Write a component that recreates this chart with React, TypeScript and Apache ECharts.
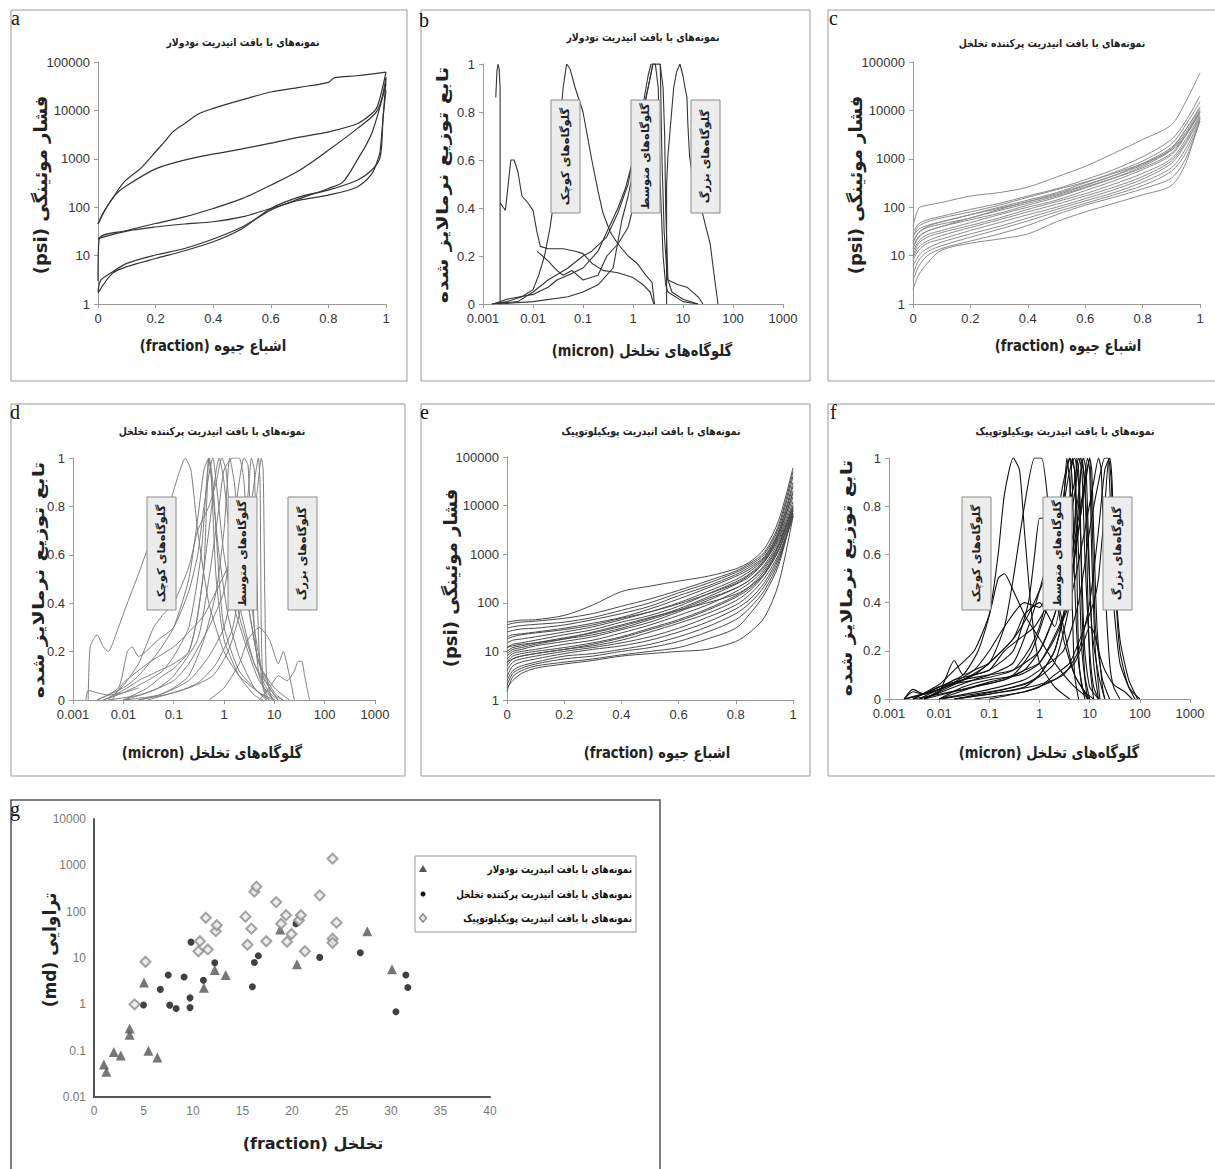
import React, { useEffect, useRef } from "react";
import * as echarts from "echarts";

// ---------- text ----------
const TITLE_NODULAR = "نمونه‌های با بافت انیدریت نودولار";
const TITLE_PORE = "نمونه‌های با بافت انیدریت پرکننده تخلخل";
const TITLE_POIK = "نمونه‌های با بافت انیدریت پویکیلوتوپیک";
const Y_PC = "(psi) فشار موئینگی";
const X_SAT = "(fraction) اشباع جیوه";
const Y_PDF = "تابع توزیع نرمالایز شده";
const X_THROAT = "(micron) گلوگاه‌های تخلخل";
const Y_PERM = "(md) تراوایی";
const X_POR = "(fraction) تخلخل";
const BOX_LABELS = ["گلوگاه‌های کوچک", "گلوگاه‌های متوسط", "گلوگاه‌های بزرگ"];
const PANEL_LETTERS = ["a", "b", "c", "d", "e", "f", "g"];

// ---------- panel a : nodular, capillary pressure ----------
const aTop = [[0,45],[0.02,80],[0.05,150],[0.09,330],[0.15,650],[0.2,1400],[0.23,2200],[0.26,3600],[0.3,5300],[0.35,8500],[0.4,11000],[0.5,16500],[0.6,24000],[0.7,30000],[0.8,38000],[0.82,47000],[0.9,52000],[1,62000]];
const aUpper = [[0,45],[0.03,100],[0.06,180],[0.1,280],[0.2,620],[0.3,940],[0.4,1250],[0.5,1600],[0.6,2100],[0.7,2800],[0.8,3600],[0.9,5300],[0.95,8500],[0.97,12000],[1,62000]];
const aMidA = [[0,3],[0.004,22],[0.1,33],[0.2,46],[0.3,63],[0.4,94],[0.5,150],[0.6,285],[0.7,580],[0.8,1500],[0.9,4200],[0.97,10000],[1,49000]];
const aMidB = [[0,22],[0.005,23],[0.1,32],[0.2,39],[0.3,45],[0.4,50],[0.5,63],[0.6,94],[0.7,140],[0.8,178],[0.9,262],[0.95,480],[0.97,900],[0.98,1500],[1,45000]];
const aLowA = [[0,1.8],[0.01,3.1],[0.05,4.6],[0.1,6.9],[0.2,10.3],[0.3,14],[0.4,22],[0.5,39],[0.6,87],[0.7,150],[0.8,244],[0.85,330],[0.9,940],[0.95,3300],[1,35000]];
const aLowB = [[0,1.7],[0.05,4.3],[0.1,5.9],[0.2,8.7],[0.3,12.6],[0.4,19.3],[0.5,36],[0.6,94],[0.7,163],[0.8,226],[0.9,361],[0.95,580],[0.98,1100],[0.99,7400],[1,26000]];

// ---------- panel b : nodular, pore throat distribution ----------
const bSpike = [[0.0018,0.86],[0.0019,0.97],[0.002,1],[0.0021,0.98],[0.0022,0.9],[0.0022,0]];
const bSmallPeak = [[0.0015,0],[0.003,0.01],[0.006,0.03],[0.01,0.06],[0.013,0.12],[0.017,0.2],[0.022,0.32],[0.027,0.45],[0.033,0.7],[0.04,0.9],[0.047,1],[0.055,0.98],[0.07,0.9],[0.1,0.8],[0.15,0.6],[0.2,0.47],[0.25,0.38],[0.35,0.3],[0.5,0.25],[0.8,0.2],[1.2,0.17],[1.8,0.12],[2.4,0.09],[2.7,0]];
const bTwinPeak = [[0.0022,0.42],[0.0026,0.4],[0.0028,0.39],[0.0032,0.5],[0.0036,0.6],[0.0042,0.6],[0.005,0.55],[0.006,0.45],[0.008,0.42],[0.01,0.39],[0.012,0.3],[0.014,0.24],[0.02,0.23],[0.04,0.23],[0.07,0.22],[0.1,0.21],[0.15,0.17],[0.25,0.14],[0.5,0.13],[1,0.11],[1.6,0.08],[2.2,0.05],[2.6,0]];
const bDip = [[0.012,0.22],[0.02,0.18],[0.03,0.14],[0.04,0.12],[0.06,0.14],[0.1,0.1],[0.2,0.12],[0.3,0.2],[0.5,0.25],[0.8,0.32],[1,0.4]];
const bMidA = [[0.0016,0],[0.003,0.02],[0.01,0.04],[0.02,0.07],[0.03,0.1],[0.05,0.12],[0.1,0.15],[0.2,0.22],[0.3,0.3],[0.5,0.4],[0.7,0.48],[1,0.6],[1.5,0.8],[2,0.95],[2.3,1],[2.8,1],[3.2,0.9],[3.5,0.5],[4,0.2],[4.5,0.08],[5,0.05],[10,0.01],[20,0]];
const bMidB = [[0.0015,0],[0.005,0.01],[0.01,0.05],[0.02,0.1],[0.05,0.15],[0.1,0.2],[0.15,0.22],[0.3,0.28],[0.5,0.38],[0.8,0.5],[1.2,0.7],[2,0.9],[2.5,1],[3,1],[3.5,1],[3.8,0.6],[4.2,0.3],[4.8,0.12],[5,0.1],[8,0.08],[12,0.07],[20,0.03],[25,0]];
const bMidC = [[0.002,0],[0.01,0.01],[0.05,0.03],[0.1,0.05],[0.2,0.08],[0.4,0.15],[0.6,0.35],[0.8,0.45],[1,0.55],[1.3,0.7],[2,0.9],[2.5,1],[3.5,1],[4,0.9],[4.3,0.7],[4.5,0.4],[5,0.1],[6,0.05],[10,0.02],[20,0]];
const bLarge = [[4.7,0],[4.7,0.5],[5,0.62],[5.5,0.72],[6.5,0.9],[7.5,0.97],[8.7,1],[10,0.95],[11,0.9],[12,0.86],[12.5,0.75],[13.5,0.62],[15,0.55],[18,0.5],[22,0.42],[28,0.33],[35,0.25],[42,0.12],[50,0]];

// ---------- panel c : pore-filling, capillary pressure ----------
const cSat = [0,0.02,0.05,0.1,0.2,0.3,0.4,0.5,0.6,0.7,0.8,0.9,0.95,1];
const cP01 = [40,95,110,125,170,200,260,420,700,1300,2500,5000,15000,60000];
const cP02 = [30,45,55,65,90,120,170,240,370,600,1100,2500,6000,20000];
const cP03 = [25,35,42,50,70,100,140,200,320,520,900,2000,5000,15000];
const cP04 = [20,30,38,45,60,90,130,180,280,450,800,1700,4000,12000];
const cP05 = [15,25,32,40,55,75,110,160,250,400,700,1500,3500,10000];
const cP06 = [12,20,27,33,48,70,100,140,220,350,600,1200,3000,9000];
const cP07 = [10,18,24,30,42,60,90,130,190,300,500,1000,2500,8000];
const cP08 = [9,15,20,26,38,55,80,115,170,260,430,900,2200,7500];
const cP09 = [8,13,18,22,33,48,70,100,150,230,380,800,2000,7000];
const cP10 = [6,10,14,19,28,40,60,90,135,200,330,650,1600,6500];
const cP11 = [4,8,12,16,24,35,52,80,120,180,280,550,1300,6000];
const cP12 = [3,6,10,14,20,28,42,70,110,160,240,400,1000,6000];
const cP13 = [2,4,7,13,18,22,28,50,80,120,180,280,800,7000];
const cP14 = [25,40,50,60,80,110,160,230,330,500,800,1500,3000,9000];
const cP15 = [18,30,40,50,70,95,130,190,290,450,750,1600,4000,11000];
const cP16 = [14,24,32,40,60,85,120,170,260,400,650,1300,3200,9500];
const cCurves = [cP01,cP02,cP03,cP04,cP05,cP06,cP07,cP08,cP09,cP10,cP11,cP12,cP13,cP14,cP15,cP16];

// ---------- panel d : pore-filling, pore throat distribution ----------
const d01 = [[0.002,0],[0.0022,0.22],[0.003,0.27],[0.004,0.22],[0.005,0.2],[0.008,0.3],[0.012,0.4],[0.02,0.52],[0.03,0.62],[0.05,0.7],[0.08,0.8],[0.12,0.92],[0.17,1],[0.22,0.95],[0.3,0.7],[0.5,0.4],[1,0.2],[2,0.1],[5,0.03],[10,0]];
const d02 = [[0.003,0],[0.01,0.05],[0.02,0.1],[0.05,0.2],[0.1,0.3],[0.2,0.5],[0.3,0.75],[0.4,0.95],[0.5,1],[0.6,0.9],[0.8,0.5],[1,0.3],[2,0.12],[5,0.03],[8,0]];
const d03 = [[0.004,0],[0.01,0.03],[0.03,0.08],[0.06,0.12],[0.1,0.18],[0.2,0.3],[0.35,0.6],[0.45,0.9],[0.5,1],[0.6,0.85],[0.8,0.6],[1.2,0.35],[2,0.18],[4,0.05],[7,0]];
const d04 = [[0.005,0],[0.01,0.06],[0.02,0.15],[0.04,0.3],[0.06,0.35],[0.1,0.4],[0.2,0.55],[0.3,0.7],[0.5,0.8],[0.7,0.9],[0.9,1],[1.1,0.95],[1.5,0.6],[2,0.4],[4,0.15],[8,0.03],[12,0]];
const d05 = [[0.003,0],[0.008,0.05],[0.012,0.2],[0.015,0.22],[0.02,0.18],[0.05,0.25],[0.1,0.3],[0.2,0.45],[0.3,0.6],[0.4,0.8],[0.6,1],[0.7,0.9],[1,0.6],[1.5,0.4],[3,0.2],[5,0.08],[10,0]];
const d06 = [[0.005,0],[0.02,0.02],[0.05,0.05],[0.1,0.1],[0.3,0.25],[0.5,0.5],[0.8,0.8],[1,0.95],[1.5,1],[2,1],[2.5,0.9],[3,0.6],[4,0.3],[6,0.1],[10,0.02],[15,0]];
const d07 = [[0.01,0],[0.03,0.03],[0.1,0.08],[0.2,0.15],[0.5,0.3],[1,0.45],[1.5,0.7],[2,0.9],[2.5,1],[3,0.97],[3.5,0.6],[4,0.3],[5,0.1],[7,0.03],[10,0]];
const d08 = [[0.01,0],[0.05,0.02],[0.2,0.08],[0.5,0.18],[1,0.3],[2,0.6],[3,0.85],[3.5,1],[4,0.95],[4.5,0.5],[5,0.2],[6,0.05],[8,0]];
const d09 = [[0.02,0],[0.1,0.03],[0.3,0.07],[0.7,0.15],[1.5,0.3],[2.5,0.6],[4,0.9],[4.8,1],[5.2,0.9],[5.5,0.3],[6,0.05],[7,0]];
const d10 = [[0.03,0],[0.2,0.05],[0.6,0.1],[1.2,0.2],[2,0.35],[3,0.6],[4.5,0.85],[5.5,1],[6,0.95],[6.5,0.4],[7,0.1],[9,0]];
const d11 = [[0.01,0],[0.03,0.05],[0.06,0.1],[0.1,0.13],[0.2,0.2],[0.3,0.35],[0.5,0.7],[0.7,0.95],[0.8,1],[1,0.9],[1.5,0.55],[2,0.35],[4,0.15],[8,0.05],[12,0]];
const d12 = [[0.006,0],[0.01,0.07],[0.03,0.15],[0.05,0.18],[0.1,0.22],[0.2,0.28],[0.4,0.35],[0.7,0.45],[1.2,0.55],[2,0.65],[2.2,0.6],[3,0.4],[5,0.15],[10,0.05],[20,0]];
const d13 = [[0.5,0],[1,0.05],[2,0.15],[3,0.25],[5,0.3],[8,0.25],[12,0.15],[15,0.2],[20,0.1],[25,0]];
const d14 = [[5,0],[8,0.05],[12,0.1],[18,0.08],[25,0.12],[30,0.16],[35,0.16],[40,0.1],[50,0]];
const d15 = [[0.004,0],[0.01,0.04],[0.02,0.08],[0.05,0.12],[0.1,0.15],[0.2,0.2],[0.3,0.35],[0.4,0.55],[0.45,0.8],[0.5,1],[0.55,0.95],[0.7,0.5],[1,0.25],[2,0.1],[4,0.02],[6,0]];
const d16 = [[0.02,0],[0.05,0.02],[0.1,0.05],[0.2,0.1],[0.4,0.25],[0.7,0.45],[1,0.7],[1.3,1],[1.6,0.9],[2,0.7],[3,0.4],[5,0.15],[10,0.03],[15,0]];
const d17 = [[0.0018,0],[0.002,0.04],[0.003,0.03],[0.005,0.02],[0.01,0.03],[0.02,0.05]];
const dCurves = [d01,d02,d03,d04,d05,d06,d07,d08,d09,d10,d11,d12,d13,d14,d15,d16,d17];

// ---------- panel e : poikilotopic, capillary pressure ----------
const eSat = [0,0.02,0.05,0.1,0.2,0.3,0.4,0.5,0.6,0.7,0.8,0.85,0.9,0.95,1];
const eP01 = [40,42,44,45,55,90,170,220,280,350,500,700,1300,5000,60000];
const eP02 = [35,38,40,42,48,60,85,120,180,280,450,650,1100,4000,50000];
const eP03 = [30,32,34,36,40,50,70,100,160,250,420,600,1000,3500,40000];
const eP04 = [25,27,29,30,35,45,60,85,140,220,380,550,900,3000,30000];
const eP05 = [20,22,23,25,30,38,50,75,120,200,350,500,850,2800,25000];
const eP06 = [15,17,18,20,25,32,45,65,100,170,300,450,800,2500,20000];
const eP07 = [12,14,15,17,22,28,40,55,85,150,270,400,750,2200,15000];
const eP08 = [10,12,13,15,19,24,33,48,75,130,240,350,700,2000,12000];
const eP09 = [8,10,11,13,16,20,28,40,65,110,200,300,600,1800,10000];
const eP10 = [7,9,10,11,14,17,24,35,55,90,170,260,500,1500,9000];
const eP11 = [6,8,9,10,12,15,20,30,45,75,140,220,450,1300,8000];
const eP12 = [5,7,8,9,11,13,17,25,38,60,110,180,380,1200,7000];
const eP13 = [4,6,7,8,10,12,15,20,30,50,90,150,320,1000,6500];
const eP14 = [3,5,6,7,9,11,13,17,25,40,75,120,260,900,6000];
const eP15 = [2.5,4,5,6,8,9,11,14,20,32,60,100,220,800,6000];
const eP16 = [2,3.5,4.5,5.5,7,8,10,12,16,25,45,80,180,700,7000];
const eP17 = [1.5,3,4,5,6,7,8.5,10,12,18,30,60,150,600,8000];
const eP18 = [1.8,2.5,3.5,4.5,5.5,6.5,8,9,10,11,16,25,50,250,6000];
const eP19 = [9,11,12,14,18,25,35,50,70,100,150,220,400,1500,9000];
const eP20 = [18,20,22,24,28,35,48,65,95,150,250,380,700,2500,18000];
const eP21 = [12,13,14,15,18,22,30,45,70,120,200,300,550,1600,10000];
const eP22 = [6,7,8,9,11,14,19,28,42,70,130,200,400,1200,8000];
const eCurves = [eP01,eP02,eP03,eP04,eP05,eP06,eP07,eP08,eP09,eP10,eP11,eP12,eP13,eP14,eP15,eP16,eP17,eP18,eP19,eP20,eP21,eP22];

// ---------- panel f : poikilotopic, pore throat distribution ----------
const f01 = [[0.002,0],[0.005,0.02],[0.01,0.05],[0.03,0.1],[0.06,0.2],[0.1,0.35],[0.15,0.6],[0.2,0.85],[0.3,1],[0.4,0.95],[0.5,0.7],[0.7,0.35],[1,0.15],[2,0.05],[4,0]];
const f02 = [[0.002,0],[0.01,0.04],[0.03,0.08],[0.1,0.15],[0.2,0.3],[0.3,0.5],[0.5,0.8],[0.8,1],[1.1,1],[1.5,0.8],[2,0.5],[3,0.25],[5,0.1],[8,0.03],[12,0]];
const f03 = [[0.003,0],[0.01,0.06],[0.02,0.12],[0.05,0.2],[0.1,0.35],[0.15,0.5],[0.2,0.52],[0.3,0.45],[0.5,0.35],[1,0.25],[2,0.15],[5,0.05],[10,0]];
const f04 = [[0.002,0],[0.003,0.03],[0.005,0.02],[0.01,0.04],[0.02,0.08],[0.05,0.1],[0.1,0.12],[0.3,0.2],[0.6,0.4],[0.8,0.6],[1,0.75],[1.2,0.75],[1.5,0.6],[3,0.3],[5,0.1],[10,0]];
const f05 = [[0.004,0],[0.01,0.03],[0.02,0.16],[0.03,0.1],[0.05,0.12],[0.1,0.15],[0.3,0.25],[0.6,0.35],[1,0.45],[2,0.6],[3,0.8],[4,0.95],[5,1],[6,0.9],[7,0.5],[8,0.2],[10,0.05],[15,0]];
const f06 = [[0.005,0],[0.02,0.05],[0.05,0.08],[0.1,0.1],[0.3,0.15],[0.6,0.3],[1,0.45],[2,0.7],[3,0.9],[4,1],[5,0.95],[6,0.6],[7,0.2],[9,0]];
const f07 = [[0.005,0],[0.03,0.04],[0.1,0.07],[0.3,0.1],[0.7,0.2],[1.5,0.4],[3,0.7],[5,0.9],[6,1],[7,0.95],[8,0.6],[10,0.2],[12,0.05],[15,0]];
const f08 = [[0.01,0],[0.05,0.05],[0.2,0.08],[0.5,0.12],[1,0.2],[2,0.35],[4,0.6],[6,0.85],[7.5,1],[8.5,0.95],[10,0.5],[12,0.15],[15,0]];
const f09 = [[0.01,0],[0.1,0.03],[0.5,0.06],[1,0.1],[2,0.2],[3,0.35],[5,0.6],[7,0.8],[9,1],[10,0.95],[11,0.6],[13,0.2],[16,0]];
const f10 = [[0.02,0],[0.2,0.04],[0.8,0.08],[2,0.15],[4,0.4],[6,0.8],[7,1],[8,0.9],[9,0.5],[10,0.15],[12,0]];
const f11 = [[0.005,0],[0.02,0.06],[0.05,0.1],[0.1,0.15],[0.3,0.25],[0.5,0.35],[1,0.4],[2,0.3],[3,0.5],[4,0.8],[4.5,1],[5,0.95],[5.5,0.6],[6,0.2],[7,0.05],[9,0]];
const f12 = [[0.003,0],[0.01,0.02],[0.05,0.05],[0.2,0.08],[0.5,0.12],[1,0.15],[2,0.25],[4,0.4],[8,0.7],[12,0.9],[15,1],[17,0.95],[20,0.5],[25,0.15],[30,0.05],[40,0]];
const f13 = [[0.01,0],[0.1,0.04],[0.5,0.08],[1,0.12],[3,0.2],[6,0.4],[10,0.7],[15,0.9],[20,1],[23,1],[26,0.8],[30,0.4],[40,0.15],[60,0.05],[80,0]];
const f14 = [[0.02,0],[0.2,0.03],[1,0.06],[3,0.1],[6,0.2],[10,0.4],[15,0.7],[20,0.95],[25,1],[28,0.9],[32,0.5],[40,0.2],[60,0.05],[100,0]];
const f15 = [[0.05,0],[0.5,0.03],[2,0.08],[5,0.15],[8,0.25],[10,0.3],[12,0.28],[15,0.2],[20,0.12],[30,0.06],[50,0.03],[70,0]];
const f16 = [[0.005,0],[0.02,0.07],[0.05,0.12],[0.1,0.2],[0.2,0.3],[0.5,0.4],[1,0.38],[1.5,0.45],[2.5,0.7],[3.5,0.95],[4,1],[4.5,0.9],[5,0.5],[6,0.15],[8,0]];
const f17 = [[0.003,0],[0.01,0.05],[0.03,0.08],[0.1,0.1],[0.3,0.12],[1,0.2],[2,0.35],[4,0.55],[6,0.75],[8,0.9],[10,1],[11,0.95],[12,0.7],[14,0.3],[18,0.05],[20,0]];
const f18 = [[0.01,0],[0.03,0.05],[0.1,0.08],[0.4,0.1],[1,0.15],[3,0.35],[5,0.7],[5.5,1],[6,0.95],[6.5,0.8],[7,0.4],[8,0.1],[10,0]];
const f19 = [[0.1,0],[0.5,0.03],[1,0.05],[2,0.1],[4,0.15],[8,0.3],[12,0.4],[15,0.5],[20,0.8],[24,1],[27,0.9],[30,0.6],[40,0.25],[60,0.08],[90,0]];
const f20 = [[0.002,0],[0.003,0.04],[0.005,0.02],[0.01,0.05],[0.03,0.07],[0.1,0.09],[0.3,0.12],[0.6,0.2],[1,0.3],[2,0.55],[3,0.8],[3.5,1],[4,0.9],[4.5,0.4],[5,0.1],[6,0]];
const f21 = [[0.004,0],[0.01,0.04],[0.05,0.1],[0.1,0.12],[0.2,0.2],[0.4,0.25],[0.8,0.3],[1.5,0.4],[3,0.6],[5,0.85],[6.5,1],[7.5,0.95],[9,0.7],[11,0.3],[15,0.1],[20,0]];
const f22 = [[0.02,0],[0.1,0.02],[0.5,0.05],[1,0.1],[2,0.2],[4,0.45],[7,0.8],[9,0.95],[10,1],[11,0.8],[13,0.3],[18,0.08],[25,0]];
const fCurves = [f01,f02,f03,f04,f05,f06,f07,f08,f09,f10,f11,f12,f13,f14,f15,f16,f17,f18,f19,f20,f21,f22];

// ---------- panel g : porosity vs permeability ----------
const gNodular = [[1.0,0.05],[1.25,0.035],[2.0,0.094],[2.7,0.079],[3.6,0.3],[3.6,0.22],[5.05,2.96],[5.5,0.1],[6.4,0.071],[11.1,2.27],[12.2,5.5],[13.3,4.3],[18.8,41],[20.5,7.3],[27.6,38],[30.1,5.7]];
const gPoreFilling = [[5.0,0.97],[6.7,2.1],[7.5,4.3],[7.65,0.96],[8.3,0.81],[9.1,3.9],[9.7,1.38],[9.7,0.85],[9.8,22],[11.05,3.3],[12.2,7.9],[16.0,2.4],[16.2,8],[16.6,11.2],[20.4,55],[22.8,10.3],[26.9,13],[30.5,0.69],[31.5,4.3],[31.7,2.3]];
const gPoikilotopic = [[4.1,1.0],[5.2,8.3],[10.55,14],[10.7,23],[11.3,74],[11.5,15.3],[12.3,38],[12.4,51],[15.3,78],[15.5,19.3],[15.9,43],[16.2,270],[16.4,346],[17.4,23],[18.4,161],[18.9,55],[19.4,84],[19.5,22.4],[19.95,33],[20.7,65],[20.9,84],[21.3,14],[22.8,225],[24.1,26],[24.1,21.3],[24.1,1390],[24.5,58]];
const gSeriesNames = [TITLE_NODULAR, TITLE_PORE, TITLE_POIK];

// ---------- style constants ----------
const FA = "'DejaVu Sans', 'Noto Sans', sans-serif";
const NUM = "'Liberation Sans', Arial, sans-serif";

const GRIDS = [
  { left: 98, top: 62, width: 288, height: 242 },
  { left: 483, top: 64, width: 300, height: 240 },
  { left: 913, top: 62, width: 287, height: 242 },
  { left: 73, top: 458, width: 302, height: 242 },
  { left: 507, top: 457, width: 286, height: 243 },
  { left: 889, top: 458, width: 301, height: 241 },
  { left: 94, top: 819, width: 396, height: 278 },
];

const fmtNum = (v: number) => String(Number(Number(v).toPrecision(6)));

function axisBase(gi: number, color = "#9a9a9a", labelColor = "#333", fontSize = 13) {
  return {
    gridIndex: gi,
    axisLine: { show: true, onZero: false, lineStyle: { color, width: 1 } },
    axisTick: { show: true, length: 4, lineStyle: { color } },
    axisLabel: { color: labelColor, fontSize, fontFamily: NUM, formatter: fmtNum, margin: 8 },
    splitLine: { show: false },
    minorTick: { show: false },
  };
}

function satX(gi: number) {
  return { ...axisBase(gi), type: "value", min: 0, max: 1, interval: 0.2 };
}
function pcY(gi: number) {
  return { ...axisBase(gi), type: "log", logBase: 10, min: 1, max: 100000, splitNumber: 5 };
}
function throatX(gi: number) {
  return { ...axisBase(gi), type: "log", logBase: 10, min: 0.001, max: 1000, splitNumber: 6 };
}
function pdfY(gi: number) {
  return { ...axisBase(gi), type: "value", min: 0, max: 1, interval: 0.2 };
}

function line(data: number[][], gi: number, color: string, smooth: number | boolean, width = 1) {
  return {
    type: "line",
    xAxisIndex: gi,
    yAxisIndex: gi,
    data,
    symbol: "none",
    showSymbol: false,
    smooth,
    silent: true,
    clip: true,
    lineStyle: { color, width },
  };
}

const zip = (xs: number[], ys: number[]) => xs.map((x, i) => [x, ys[i]]);

function txt(text: string, x: number, y: number, size: number, opts: any = {}) {
  return {
    type: "text",
    x,
    y,
    rotation: opts.rotation || 0,
    scaleX: opts.scaleX || 1,
    z: 10,
    style: {
      text,
      fontSize: size,
      fontWeight: opts.weight || "bold",
      fontFamily: opts.family || FA,
      fill: opts.fill || "#222",
      align: opts.align || "center",
      verticalAlign: "middle",
    },
  };
}

function rect(x: number, y: number, w: number, h: number, stroke: string, fill = "none", lw = 1) {
  return { type: "rect", z: 1, shape: { x, y, width: w, height: h }, style: { fill, stroke, lineWidth: lw } };
}

function boxes(xs: number[], top: number, bottom: number) {
  const out: any[] = [];
  xs.forEach((bx, i) => {
    out.push({ ...rect(bx, top, 29, bottom - top, "#8a8a8a", "#ececec"), z: 8 });
    out.push(txt(BOX_LABELS[i], bx + 14.5, (top + bottom) / 2, 11, { rotation: Math.PI / 2, scaleX: 1.05 }));
  });
  return out;
}

function buildOption() {
  const series: any[] = [];
  [aTop, aUpper, aMidA, aMidB, aLowA, aLowB].forEach((c) => series.push(line(c, 0, "#333", 0.3, 1.2)));
  [bSpike, bSmallPeak, bTwinPeak, bDip, bMidA, bMidB, bMidC, bLarge].forEach((c) => series.push(line(c, 1, "#333", false, 1.1)));
  cCurves.forEach((c) => series.push(line(zip(cSat, c), 2, "#8a8a8a", 0.3)));
  dCurves.forEach((c) => series.push(line(c, 3, "#7e7e7e", 0.2)));
  eCurves.forEach((c) => series.push(line(zip(eSat, c), 4, "#4a4a4a", 0.3)));
  fCurves.forEach((c) => series.push(line(c, 5, "#111", 0.2, 1.1)));

  series.push({
    type: "scatter", name: gSeriesNames[0], xAxisIndex: 6, yAxisIndex: 6, data: gNodular,
    symbol: "triangle", symbolSize: 10, itemStyle: { color: "#555" },
  });
  series.push({
    type: "scatter", name: gSeriesNames[1], xAxisIndex: 6, yAxisIndex: 6, data: gPoreFilling,
    symbol: "circle", symbolSize: 7, itemStyle: { color: "#111" },
  });
  series.push({
    type: "scatter", name: gSeriesNames[2], xAxisIndex: 6, yAxisIndex: 6, data: gPoikilotopic,
    symbol: "diamond", symbolSize: 10, itemStyle: { color: "#e8e8e8", borderColor: "#8c8c8c", borderWidth: 2 },
  });

  const gAxis = (gi: number) => {
    const b = axisBase(gi, "#666", "#777", 12);
    return { ...b, axisLine: { show: true, onZero: false, lineStyle: { color: "#555", width: 2 } }, axisTick: { show: false } };
  };

  const xAxis = [
    satX(0), throatX(1), satX(2), throatX(3), satX(4), throatX(5),
    { ...gAxis(6), type: "value", min: 0, max: 40, interval: 5 },
  ];
  const yAxis = [
    pcY(0), pdfY(1), pcY(2), pdfY(3), pcY(4), pdfY(5),
    { ...gAxis(6), type: "log", logBase: 10, min: 0.01, max: 10000, splitNumber: 6 },
  ];

  const graphic: any[] = [];
  // panel frames
  graphic.push(rect(11, 10, 396, 371, "#9a9a9a"));
  graphic.push(rect(421, 10, 389, 371, "#9a9a9a"));
  graphic.push(rect(828, 10, 400, 371, "#9a9a9a"));
  graphic.push(rect(11, 404, 394, 372, "#9a9a9a"));
  graphic.push(rect(421, 404, 389, 372, "#9a9a9a"));
  graphic.push(rect(828, 404, 400, 372, "#9a9a9a"));
  graphic.push(rect(11, 800, 649, 400, "#555", "none", 1.5));

  // panel letters
  const letterPos = [[11, 18], [419, 20], [829, 18], [10, 412], [420, 412], [830, 412], [10, 809]];
  letterPos.forEach((p, i) =>
    graphic.push(txt(PANEL_LETTERS[i], p[0], p[1], 20, { weight: "normal", family: "'Liberation Serif', 'Times New Roman', serif", align: "left", fill: "#111" }))
  );

  // titles
  const TS = 0.85;
  graphic.push(txt(TITLE_NODULAR, 243, 42, 11, { scaleX: TS }));
  graphic.push(txt(TITLE_NODULAR, 643, 37, 11, { scaleX: TS }));
  graphic.push(txt(TITLE_PORE, 1052, 43, 11, { scaleX: TS }));
  graphic.push(txt(TITLE_PORE, 212, 431, 11, { scaleX: TS }));
  graphic.push(txt(TITLE_POIK, 651, 431, 11, { scaleX: TS }));
  graphic.push(txt(TITLE_POIK, 1065, 431, 11, { scaleX: TS }));

  // axis names
  const R = Math.PI / 2;
  const XS = 0.82;
  const PS = 1.3;
  graphic.push(txt(Y_PC, 40, 185, 18, { rotation: R }));
  graphic.push(txt(X_SAT, 213, 345, 16, { scaleX: XS }));
  graphic.push(txt(Y_PDF, 442, 185, 16, { rotation: R, scaleX: PS }));
  graphic.push(txt(X_THROAT, 642, 350, 16, { scaleX: XS }));
  graphic.push(txt(Y_PC, 855, 185, 18, { rotation: R }));
  graphic.push(txt(X_SAT, 1068, 345, 16, { scaleX: XS }));
  graphic.push(txt(Y_PDF, 38, 580, 16, { rotation: R, scaleX: PS }));
  graphic.push(txt(X_THROAT, 212, 752, 16, { scaleX: XS }));
  graphic.push(txt(Y_PC, 450, 578, 18, { rotation: R }));
  graphic.push(txt(X_SAT, 657, 752, 16, { scaleX: XS }));
  graphic.push(txt(Y_PDF, 846, 578, 16, { rotation: R, scaleX: PS }));
  graphic.push(txt(X_THROAT, 1049, 752, 16, { scaleX: XS }));
  graphic.push(txt(Y_PERM, 50, 950, 18, { rotation: R, scaleX: 0.95 }));
  graphic.push(txt(X_POR, 313, 1143, 16));

  // boxes
  graphic.push(...boxes([551, 631, 691], 100, 213));
  graphic.push(...boxes([147, 228, 288], 497, 610));
  graphic.push(...boxes([962, 1043, 1103], 497, 610));

  // legend for g
  graphic.push({ ...rect(415, 856, 221, 76, "#999", "#fff"), z: 9 });
  const ly = [869, 894, 918];
  gSeriesNames.forEach((n, i) => graphic.push(txt(n, 632, ly[i], 11, { align: "right", scaleX: 0.8, fill: "#111" })));
  graphic.push({ type: "polygon", z: 11, shape: { points: [[423, ly[0] - 4], [419, ly[0] + 3], [427, ly[0] + 3]] }, style: { fill: "#555" } });
  graphic.push({ type: "circle", z: 11, shape: { cx: 423, cy: ly[1], r: 2.5 }, style: { fill: "#111" } });
  graphic.push({ type: "polygon", z: 11, shape: { points: [[423, ly[2] - 4], [426.5, ly[2]], [423, ly[2] + 4], [419.5, ly[2]]] }, style: { fill: "#e8e8e8", stroke: "#8c8c8c", lineWidth: 1.5 } });

  return {
    animation: false,
    backgroundColor: "#fff",
    grid: GRIDS.map((g) => ({ ...g, containLabel: false })),
    xAxis,
    yAxis,
    series,
    graphic,
  };
}

export default function App() {
  const ref = useRef<HTMLDivElement>(null);
  useEffect(() => {
    if (!ref.current) return;
    const chart = echarts.init(ref.current, undefined, { renderer: "svg" });
    chart.setOption(buildOption() as any);
    return () => chart.dispose();
  }, []);
  return (
    <div
      ref={ref}
      style={{ position: "absolute", left: 0, top: 0, width: 1215, height: 1169, background: "#fff" }}
    />
  );
}
